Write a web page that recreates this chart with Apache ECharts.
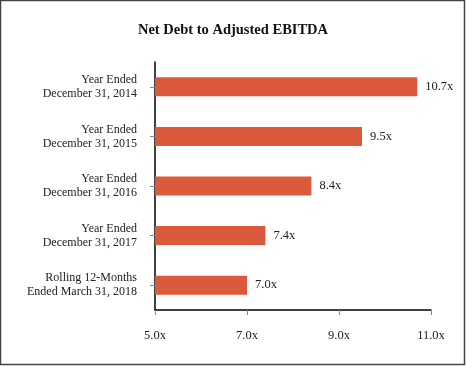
<!DOCTYPE html>
<html>
<head>
<meta charset="utf-8">
<script src="https://cdn.jsdelivr.net/npm/echarts@6/dist/echarts.min.js"></script>
<style>
html,body{margin:0;padding:0;background:#fff;}
#c{width:466px;height:366px;}
</style>
</head>
<body>
<div id="c"></div>
<script>
var titleText = 'Net Debt to Adjusted EBITDA';
var categories = [
  'Year Ended\nDecember 31, 2014',
  'Year Ended\nDecember 31, 2015',
  'Year Ended\nDecember 31, 2016',
  'Year Ended\nDecember 31, 2017',
  'Rolling 12-Months\nEnded March 31, 2018'
];
var values = [10.7, 9.5, 8.4, 7.4, 7.0];
var xMin = 5, xMax = 11, xStep = 2;

var font = '"Liberation Serif", "Times New Roman", serif';
var chart = echarts.init(document.getElementById('c'), null, {renderer: 'canvas'});
chart.setOption({
  backgroundColor: '#fff',
  animation: false,
  title: {
    text: titleText,
    left: 'center',
    top: 18,
    textStyle: {fontFamily: font, fontWeight: 'bold', fontSize: 14.5, color: '#111'}
  },
  graphic: [{
    type: 'rect',
    shape: {x: 0.5, y: 0.5, width: 464, height: 364},
    style: {fill: 'none', stroke: '#444', lineWidth: 1.5},
    silent: true
  }],
  grid: {left: 155, right: 35, top: 62, bottom: 56},
  xAxis: {
    type: 'value',
    min: xMin, max: xMax, interval: xStep,
    axisLine: {show: true, lineStyle: {color: '#000', width: 1.5}},
    axisTick: {show: true, length: 5, lineStyle: {color: '#888'}},
    splitLine: {show: false},
    axisLabel: {
      margin: 19,
      fontFamily: font, fontSize: 12.5, color: '#222',
      formatter: function (v) { return v.toFixed(1) + 'x'; }
    }
  },
  yAxis: {
    type: 'category',
    data: categories,
    inverse: true,
    axisLine: {show: true, lineStyle: {color: '#000', width: 1.5}},
    axisTick: {show: true, length: 5, alignWithLabel: true, lineStyle: {color: '#888'}},
    axisLabel: {
      margin: 18,
      fontFamily: font, fontSize: 12, color: '#222',
      lineHeight: 14, align: 'right'
    }
  },
  series: [{
    type: 'bar',
    data: values,
    barWidth: 19,
    itemStyle: {color: '#DC5A3C'},
    label: {
      show: true, position: 'right', distance: 8,
      fontFamily: font, fontSize: 12.5, color: '#222',
      formatter: function (p) { return p.value.toFixed(1) + 'x'; }
    }
  }]
});
</script>
</body>
</html>
